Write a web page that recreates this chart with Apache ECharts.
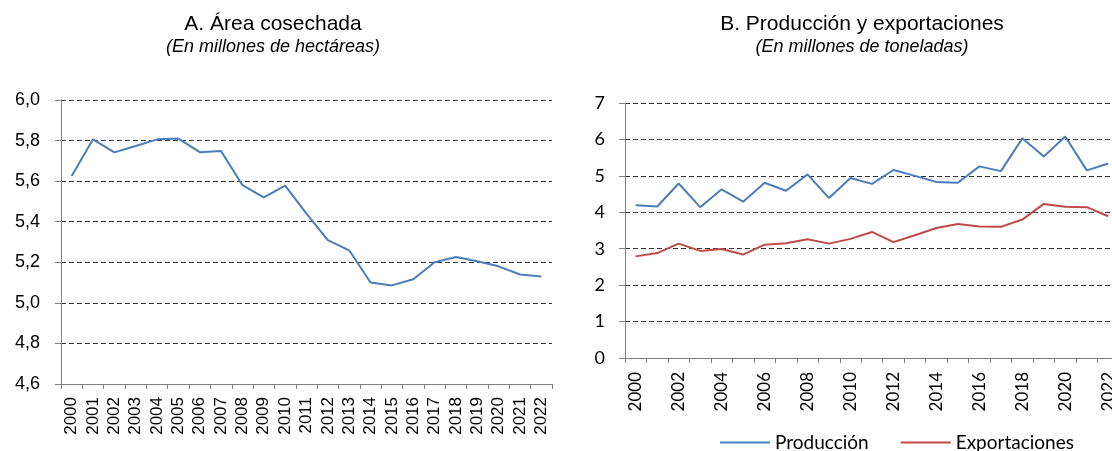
<!DOCTYPE html>
<html>
<head>
<meta charset="utf-8">
<script src="https://cdn.jsdelivr.net/npm/echarts@6/dist/echarts.min.js"></script>
<style>
  html, body { margin: 0; padding: 0; background: #fff; }
  #chart { width: 1112px; height: 451px; }
</style>
</head>
<body>
<div id="chart"></div>
<script>
  // datos
  const years = ["2000", "2001", "2002", "2003", "2004", "2005", "2006", "2007", "2008", "2009", "2010",
    "2011", "2012", "2013", "2014", "2015", "2016", "2017", "2018", "2019", "2020", "2021", "2022"]
  const area = [5.625, 5.806, 5.742, 5.773, 5.806, 5.81, 5.743, 5.748, 5.58, 5.52, 5.578,
    5.44, 5.309, 5.259, 5.10, 5.086, 5.116, 5.20, 5.226, 5.205, 5.18, 5.14, 5.13]
  const produccion = [4.19, 4.16, 4.79, 4.14, 4.63, 4.29, 4.81, 4.59, 5.04, 4.39, 4.94,
    4.78, 5.16, 5.0, 4.83, 4.81, 5.26, 5.13, 6.03, 5.53, 6.08, 5.15, 5.34]
  const exportaciones = [2.79, 2.88, 3.14, 2.94, 2.99, 2.84, 3.11, 3.15, 3.26, 3.14, 3.27,
    3.46, 3.18, 3.37, 3.57, 3.68, 3.61, 3.60, 3.80, 4.23, 4.15, 4.14, 3.89]

  const arial = "'Liberation Sans', Arial, sans-serif"
  const calibri = "Lato, 'Noto Sans', sans-serif"
  const gridLine = {lineStyle: {color: "#333", width: 1, type: [5, 3]}}
  const axisGray = {show: true, lineStyle: {color: "#808080", width: 1}}

  let option = {
    animation: false,
    title: [
      {text: "A. Área cosechada", left: 273, top: 14, textAlign: "center", padding: 0,
        textStyle: {fontFamily: arial, fontSize: 21, fontWeight: "normal", color: "#000"}},
      {text: "(En millones de hectáreas)", left: 273, top: 38, textAlign: "center", padding: 0,
        textStyle: {fontFamily: arial, fontSize: 18, fontStyle: "italic", fontWeight: "normal", color: "#000"}},
      {text: "B. Producción y exportaciones", left: 862, top: 14, textAlign: "center", padding: 0,
        textStyle: {fontFamily: arial, fontSize: 21, fontWeight: "normal", color: "#000"}},
      {text: "(En millones de toneladas)", left: 862, top: 38, textAlign: "center", padding: 0,
        textStyle: {fontFamily: arial, fontSize: 18, fontStyle: "italic", fontWeight: "normal", color: "#000"}}
    ],
    legend: {
      data: ["Producción", "Exportaciones"],
      left: 720, top: 433, padding: 0,
      icon: "rect", itemWidth: 50, itemHeight: 2, itemGap: 32,
      textStyle: {fontFamily: calibri, fontSize: 19, color: "#000"}
    },
    grid: [
      {left: 61, top: 100, right: 560, bottom: 67, outerBoundsMode: "none"},
      {left: 625, top: 103, right: -7, bottom: 93, outerBoundsMode: "none"}
    ],
    xAxis: [
      {
        type: "category", gridIndex: 0, data: years, boundaryGap: true,
        axisLine: axisGray,
        axisTick: {show: true, length: 5, lineStyle: {color: "#808080"}},
        axisLabel: {interval: 0, rotate: 90, margin: 13, fontFamily: arial, fontSize: 17, color: "#000"}
      },
      {
        type: "category", gridIndex: 1, data: years, boundaryGap: true,
        axisLine: axisGray,
        axisTick: {show: true, length: 5, interval: 0, lineStyle: {color: "#808080"}},
        axisLabel: {interval: 1, rotate: 90, margin: 14, fontFamily: calibri, fontSize: 17, color: "#000"}
      }
    ],
    yAxis: [
      {
        type: "value", gridIndex: 0, min: 4.6, max: 6.0, interval: 0.2,
        axisLine: axisGray,
        axisTick: {show: true, length: 6, lineStyle: {color: "#808080"}},
        axisLabel: {
          margin: 21, fontFamily: arial, fontSize: 18, color: "#000",
          formatter: v => v.toFixed(1).replace(".", ",")
        },
        splitLine: gridLine
      },
      {
        type: "value", gridIndex: 1, min: 0, max: 7, interval: 1,
        axisLine: axisGray,
        axisTick: {show: true, length: 6, lineStyle: {color: "#808080"}},
        axisLabel: {margin: 20, fontFamily: calibri, fontSize: 18, color: "#000"},
        splitLine: gridLine
      }
    ],
    series: [
      {
        name: "Área cosechada", type: "line", xAxisIndex: 0, yAxisIndex: 0, data: area,
        showSymbol: false, lineStyle: {color: "#4a7ebb", width: 2}, itemStyle: {color: "#4a7ebb"}
      },
      {
        name: "Producción", type: "line", xAxisIndex: 1, yAxisIndex: 1, data: produccion,
        showSymbol: false, lineStyle: {color: "#4a7ebb", width: 2}, itemStyle: {color: "#4a7ebb"}
      },
      {
        name: "Exportaciones", type: "line", xAxisIndex: 1, yAxisIndex: 1, data: exportaciones,
        showSymbol: false, lineStyle: {color: "#be4b48", width: 2}, itemStyle: {color: "#be4b48"}
      }
    ]
  }

  const myChart = echarts.init(document.getElementById("chart"))
  myChart.setOption(option)
</script>
</body>
</html>
